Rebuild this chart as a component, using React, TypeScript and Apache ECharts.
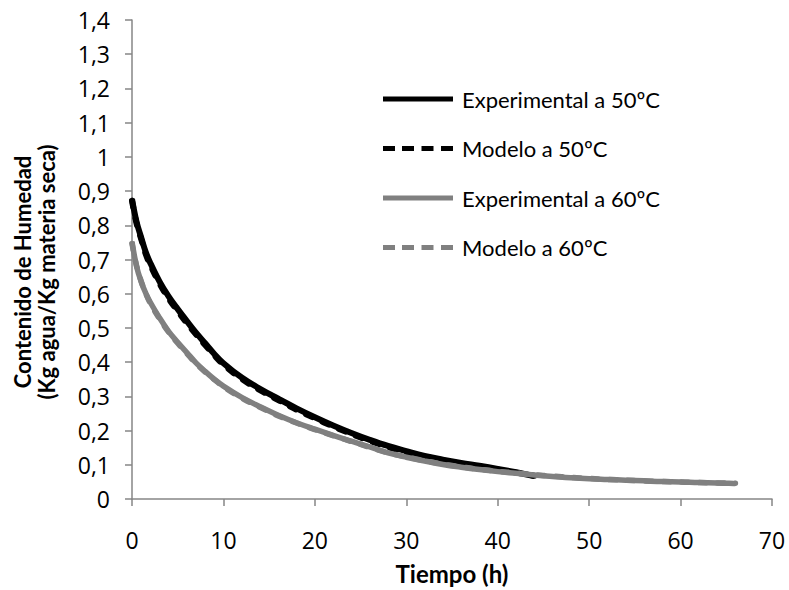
import React, { useEffect, useRef } from "react";
import * as echarts from "echarts";

const seriesNames = ["Experimental a 50ºC", "Modelo a 50ºC", "Experimental a 60ºC", "Modelo a 60ºC"];

const time50 = [0, 0.5, 1, 1.5, 2, 3, 4, 5, 6, 7, 8, 9, 10, 12, 14, 16, 18, 20, 22, 24, 26, 28, 30, 32, 34, 36, 38, 40, 42, 44];
const exp50 = [0.877, 0.81, 0.765, 0.722, 0.69, 0.636, 0.592, 0.555, 0.52, 0.486, 0.455, 0.424, 0.397, 0.355, 0.322, 0.293, 0.265, 0.239, 0.215, 0.193, 0.173, 0.155, 0.14, 0.126, 0.115, 0.105, 0.097, 0.088, 0.078, 0.067];
const mod50 = [0.872, 0.805, 0.76, 0.716, 0.684, 0.63, 0.586, 0.549, 0.514, 0.481, 0.45, 0.42, 0.393, 0.351, 0.318, 0.289, 0.261, 0.236, 0.212, 0.19, 0.17, 0.152, 0.137, 0.124, 0.113, 0.103, 0.095, 0.086, 0.077, 0.068];

const time60 = [0, 0.5, 1, 1.5, 2, 3, 4, 5, 6, 7, 8, 9, 10, 12, 14, 16, 18, 20, 22, 24, 26, 28, 30, 32, 34, 36, 38, 40, 42, 44, 46, 48, 50, 52, 54, 56, 58, 60, 62, 64, 66];
const exp60 = [0.752, 0.68, 0.635, 0.602, 0.575, 0.53, 0.49, 0.458, 0.428, 0.398, 0.373, 0.35, 0.33, 0.297, 0.27, 0.245, 0.223, 0.204, 0.186, 0.169, 0.152, 0.135, 0.122, 0.111, 0.101, 0.093, 0.086, 0.08, 0.075, 0.07, 0.066, 0.062, 0.059, 0.057, 0.055, 0.053, 0.051, 0.05, 0.048, 0.047, 0.045];
const mod60 = [0.747, 0.682, 0.637, 0.601, 0.572, 0.527, 0.488, 0.455, 0.425, 0.396, 0.371, 0.349, 0.328, 0.295, 0.268, 0.243, 0.222, 0.203, 0.185, 0.168, 0.151, 0.135, 0.123, 0.112, 0.102, 0.094, 0.087, 0.081, 0.076, 0.071, 0.067, 0.063, 0.06, 0.057, 0.055, 0.053, 0.051, 0.05, 0.048, 0.047, 0.046];

const xTicks = [0, 10, 20, 30, 40, 50, 60, 70];
const xTitle = "Tiempo (h)";
const yTitle = ["Contenido de Humedad", "(Kg agua/Kg materia seca)"];

const FONT = "Lato";
const TICK_FONT = "Open Sans";
const AXIS_COLOR = "#868686";

const SOLID_ICON = "path://M0,0H70V5H0Z";
const DASH_ICON = "path://M0,0H12V5H0Z M19,0H31V5H19Z M38.5,0H50.5V5H38.5Z M58,0H70V5H58Z";

function pairs(t: number[], v: number[]) {
  return t.map((x, i) => [x, v[i]]);
}

export default function App() {
  const ref = useRef<HTMLDivElement>(null);
  useEffect(() => {
    if (!ref.current) return;
    const chart = echarts.init(ref.current, null, { renderer: "svg" });
    const mk = (name: string, data: number[][], color: string, dashed: boolean, width: number) => ({
      name,
      type: "line",
      data,
      showSymbol: false,
      symbol: "none",
      smooth: 0.4,
      lineStyle: dashed
        ? { color, width, type: [7, 11], cap: "round" }
        : { color, width, type: "solid" },
      itemStyle: { color },
    });
    chart.setOption({
      animation: false,
      backgroundColor: "#fff",
      textStyle: { fontFamily: FONT },
      grid: { left: 132, right: 17, top: 20, bottom: 90, containLabel: false },
      legend: {
        orient: "vertical",
        left: 383,
        top: 85,
        padding: 0,
        itemWidth: 70,
        itemHeight: 5,
        itemGap: 21.5,
        data: [
          { name: seriesNames[0], icon: SOLID_ICON },
          { name: seriesNames[1], icon: DASH_ICON },
          { name: seriesNames[2], icon: SOLID_ICON },
          { name: seriesNames[3], icon: DASH_ICON },
        ],
        textStyle: { fontFamily: FONT, fontSize: 22, color: "#000", lineHeight: 28, padding: [0, 0, 0, 4] },
      },
      xAxis: {
        type: "value",
        min: xTicks[0],
        max: xTicks[xTicks.length - 1],
        interval: 10,
        splitLine: { show: false },
        axisLine: { lineStyle: { color: AXIS_COLOR, width: 1.5 } },
        axisTick: { show: true, length: 7, lineStyle: { color: AXIS_COLOR, width: 1.5 } },
        axisLabel: { fontFamily: TICK_FONT, fontSize: 23, color: "#000", margin: 29 },
        name: xTitle,
        nameLocation: "middle",
        nameGap: 62,
        nameTextStyle: { fontFamily: FONT, fontSize: 24, fontWeight: "bold", color: "#000" },
      },
      yAxis: {
        type: "value",
        min: 0,
        max: 1.4,
        interval: 0.1,
        splitLine: { show: false },
        axisLine: { show: true, lineStyle: { color: AXIS_COLOR, width: 1.5 } },
        axisTick: { show: true, length: 7, lineStyle: { color: AXIS_COLOR, width: 1.5 } },
        axisLabel: {
          fontFamily: TICK_FONT,
          fontSize: 23,
          color: "#000",
          margin: 22,
          formatter: (v: number) => String(Math.round(v * 10) / 10).replace(".", ","),
        },
      },
      graphic: [
        {
          type: "text",
          x: 34,
          y: 272,
          rotation: Math.PI / 2,
          style: {
            text: yTitle.join("\n"),
            fontFamily: FONT,
            fontSize: 22,
            fontWeight: "bold",
            fill: "#000",
            align: "center",
            verticalAlign: "middle",
            lineHeight: 24,
          },
        },
      ],
      series: [
        mk(seriesNames[0], pairs(time50, exp50), "#000000", false, 6),
        mk(seriesNames[1], pairs(time50, mod50), "#000000", true, 6),
        mk(seriesNames[2], pairs(time60, exp60), "#808080", false, 5.5),
        mk(seriesNames[3], pairs(time60, mod60), "#808080", true, 5.5),
      ],
    });
    return () => chart.dispose();
  }, []);
  return <div ref={ref} style={{ width: 789, height: 590, position: "absolute", left: 0, top: 0 }} />;
}
